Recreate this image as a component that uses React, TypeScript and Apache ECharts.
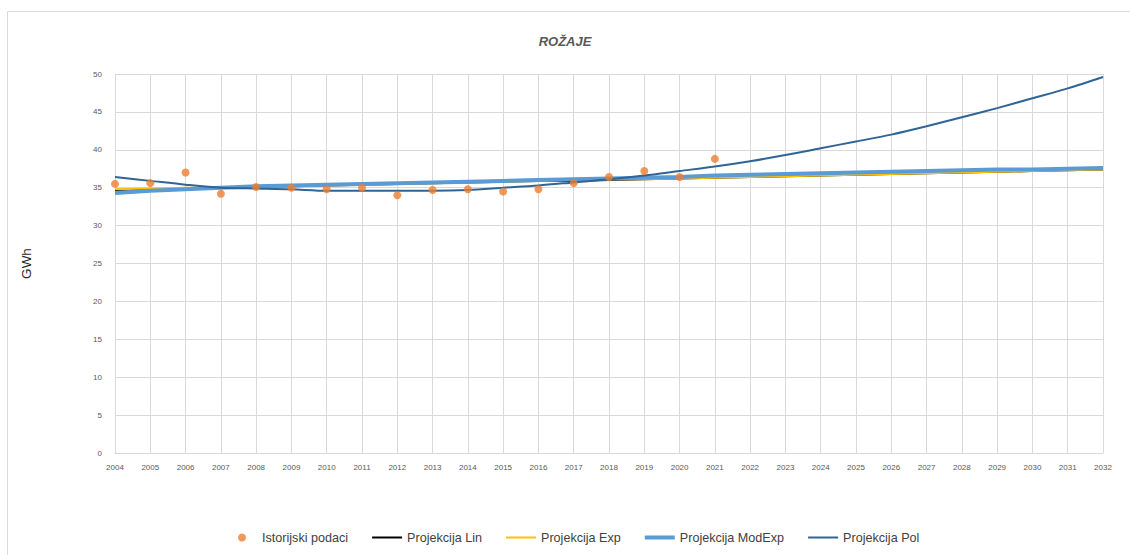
import React, { useEffect, useRef } from "react";
import * as echarts from "echarts";

const years = [
  "2004", "2005", "2006", "2007", "2008", "2009", "2010", "2011", "2012", "2013",
  "2014", "2015", "2016", "2017", "2018", "2019", "2020", "2021", "2022", "2023",
  "2024", "2025", "2026", "2027", "2028", "2029", "2030", "2031", "2032",
];

const historical = [
  35.5, 35.6, 37.0, 34.2, 35.1, 35.0, 34.8, 35.0, 34.0, 34.7,
  34.8, 34.5, 34.8, 35.6, 36.4, 37.2, 36.4, 38.8,
];

const projLin = [
  34.7, 34.8, 34.9, 35.0, 35.1, 35.2, 35.3, 35.4, 35.5, 35.6,
  35.7, 35.8, 35.9, 35.9, 36.0, 36.1, 36.2, 36.3, 36.4, 36.5,
  36.6, 36.7, 36.8, 36.9, 37.0, 37.1, 37.2, 37.3, 37.4,
];

const projExp = [
  34.8, 34.9, 35.0, 35.0, 35.1, 35.2, 35.3, 35.4, 35.5, 35.6,
  35.7, 35.8, 35.9, 36.0, 36.1, 36.1, 36.2, 36.3, 36.4, 36.5,
  36.6, 36.7, 36.8, 36.9, 37.0, 37.1, 37.2, 37.3, 37.4,
];

const projModExp = [
  34.3, 34.6, 34.8, 35.0, 35.2, 35.3, 35.4, 35.5, 35.6, 35.7,
  35.8, 35.9, 36.0, 36.1, 36.2, 36.3, 36.4, 36.6, 36.7, 36.8,
  36.9, 37.0, 37.1, 37.2, 37.3, 37.4, 37.4, 37.5, 37.6,
];

const projPol = [
  36.4, 35.9, 35.4, 35.0, 34.9, 34.8, 34.6, 34.6, 34.6, 34.6,
  34.7, 35.0, 35.3, 35.7, 36.1, 36.6, 37.2, 37.8, 38.5, 39.3,
  40.2, 41.1, 42.0, 43.1, 44.3, 45.5, 46.8, 48.1, 49.6,
];

const yTicks = { min: 0, max: 50, interval: 5 };

const thinIcon = "path://M0 0 H30 V2 H0 Z";
const thickIcon = "path://M0 0 H30 V4 H0 Z";

export default function App() {
  const ref = useRef<HTMLDivElement>(null);

  useEffect(() => {
    if (!ref.current) return;
    const chart = echarts.init(ref.current, null, { renderer: "svg" });
    const font = "'Liberation Sans', 'DejaVu Sans', sans-serif";
    chart.setOption({
      animation: false,
      backgroundColor: "#ffffff",
      textStyle: { fontFamily: font },
      title: {
        text: "ROŽAJE",
        left: "center",
        top: 30,
        textStyle: {
          fontFamily: font,
          fontSize: 13,
          fontStyle: "italic",
          fontWeight: "bold",
          color: "#595959",
        },
      },
      graphic: [
        {
          type: "rect",
          shape: { x: 7.5, y: 11.5, width: 1300, height: 700 },
          style: { fill: "none", stroke: "#d9d9d9", lineWidth: 1 },
          silent: true,
        },
      ],
      grid: { left: 115, right: 27, top: 74, bottom: 102, containLabel: false },
      legend: {
        bottom: 6,
        left: 233,
        itemWidth: 30,
        itemHeight: 8,
        itemGap: 24,
        symbolKeepAspect: true,
        textStyle: { fontFamily: font, fontSize: 12.6, color: "#404040" },
        data: [
          { name: "Istorijski podaci", icon: "circle" },
          { name: "Projekcija Lin", icon: thinIcon },
          { name: "Projekcija Exp", icon: thinIcon },
          { name: "Projekcija ModExp", icon: thickIcon },
          { name: "Projekcija Pol", icon: thinIcon },
        ],
      },
      xAxis: {
        type: "category",
        data: years,
        boundaryGap: false,
        axisLine: { lineStyle: { color: "#d9d9d9" } },
        axisTick: { show: false },
        axisLabel: { color: "#595959", fontSize: 8, margin: 10, interval: 0 },
        splitLine: { show: true, interval: 0, lineStyle: { color: "#d9d9d9" } },
      },
      yAxis: {
        type: "value",
        min: yTicks.min,
        max: yTicks.max,
        interval: yTicks.interval,
        name: "GWh",
        nameLocation: "middle",
        nameRotate: 90,
        nameGap: 82,
        nameTextStyle: { color: "#262626", fontSize: 13.5, fontFamily: font },
        axisLine: { show: false },
        axisTick: { show: false },
        axisLabel: { color: "#595959", fontSize: 8, margin: 13 },
        splitLine: { show: true, lineStyle: { color: "#d9d9d9" } },
      },
      series: [
        {
          name: "Istorijski podaci",
          type: "scatter",
          data: historical,
          symbol: "circle",
          symbolSize: 8,
          itemStyle: { color: "#ED7D31" },
          z: 10,
        },
        {
          name: "Projekcija Lin",
          type: "line",
          data: projLin,
          symbol: "none",
          lineStyle: { color: "#000000", width: 2 },
          itemStyle: { color: "#000000" },
          z: 3,
        },
        {
          name: "Projekcija Exp",
          type: "line",
          data: projExp,
          symbol: "none",
          lineStyle: { color: "#FFC000", width: 2 },
          itemStyle: { color: "#FFC000" },
          z: 4,
        },
        {
          name: "Projekcija ModExp",
          type: "line",
          data: projModExp,
          symbol: "none",
          lineStyle: { color: "#5B9BD5", width: 4 },
          itemStyle: { color: "#5B9BD5" },
          z: 5,
        },
        {
          name: "Projekcija Pol",
          type: "line",
          data: projPol,
          symbol: "none",
          smooth: 0.3,
          lineStyle: { color: "#2F6496", width: 2 },
          itemStyle: { color: "#2F6496" },
          z: 6,
        },
      ],
    });
    return () => chart.dispose();
  }, []);

  return (
    <div
      ref={ref}
      style={{ position: "absolute", left: 0, top: 0, width: 1130, height: 555 }}
    />
  );
}
